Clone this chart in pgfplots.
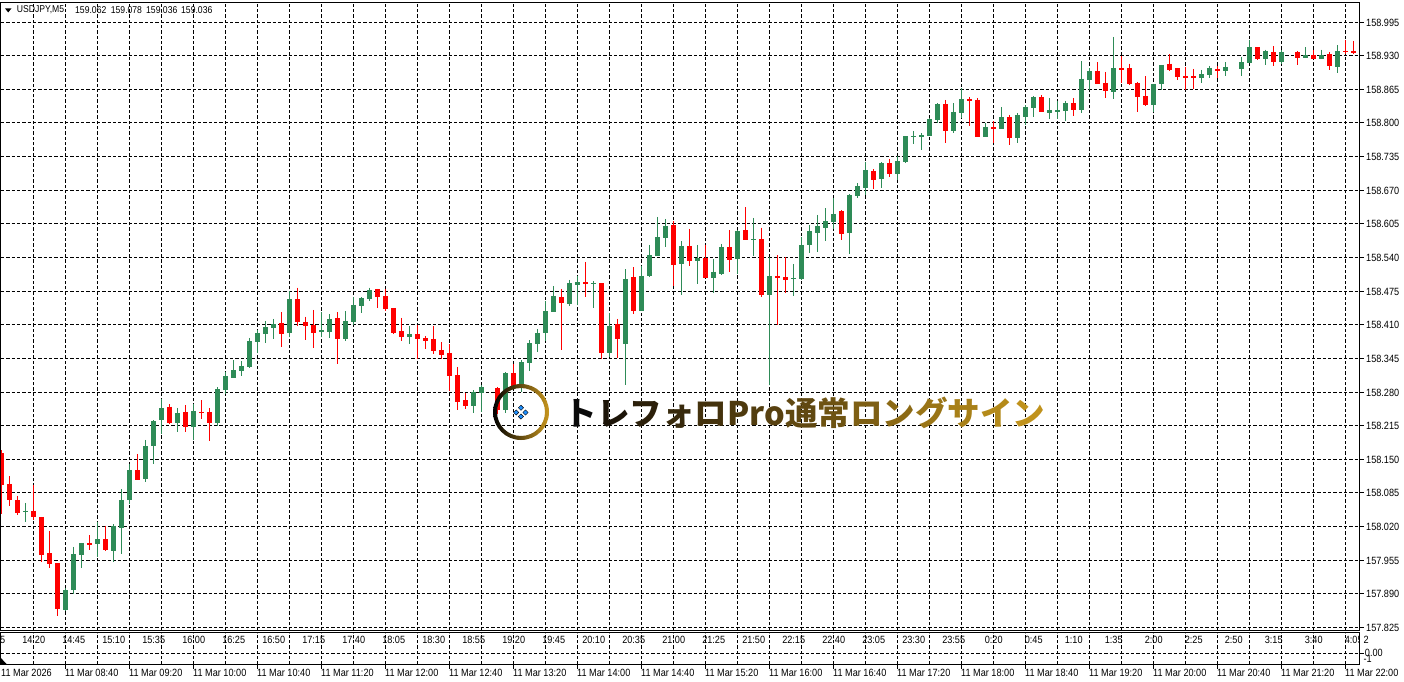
\documentclass[border=0pt]{standalone}
\usepackage{fontspec}
\usepackage{xcolor}
\usepackage{pgfplots}
\usepackage{pgfplotstable}
\pgfplotsset{compat=1.18}
\setmainfont{Liberation Sans}
\newfontfamily\lf[FakeStretch=0.87]{Liberation Sans}
\newfontfamily\cjk{Noto Sans CJK JP}
\definecolor{cgreen}{HTML}{2E8B57}
\definecolor{cred}{HTML}{FF0000}
\definecolor{cblue}{HTML}{1E90FF}
\definecolor{cgold}{HTML}{C8961E}
\newcommand{\lab}{\lf\fontsize{10.5}{12}\selectfont}
\newcommand{\hdr}{\lf\fontsize{9.9}{12}\selectfont}
\pgfplotstableread{
x o h l c
0 158.162 158.168 158.045 158.101
1 158.103 158.118 158.060 158.072
2 158.072 158.080 158.043 158.047
4 158.051 158.101 158.033 158.039
5 158.039 158.039 157.952 157.965
6 157.969 158.012 157.940 157.948
7 157.950 157.950 157.848 157.861
11 157.989 158.004 157.975 157.985
13 157.996 158.022 157.973 157.975
17 158.130 158.161 158.110 158.110
21 158.252 158.257 158.219 158.221
23 158.242 158.255 158.203 158.213
25 158.242 158.265 158.228 158.240
26 158.242 158.250 158.186 158.221
35 158.414 158.435 158.368 158.393
37 158.460 158.482 158.408 158.416
38 158.416 158.426 158.381 158.408
39 158.410 158.439 158.366 158.395
42 158.424 158.435 158.335 158.383
47 158.480 158.480 158.443 158.464
48 158.466 158.480 158.437 158.441
49 158.443 158.443 158.393 158.395
50 158.398 158.424 158.379 158.387
52 158.393 158.410 158.344 158.383
53 158.385 158.389 158.364 158.379
54 158.383 158.408 158.354 158.360
55 158.362 158.377 158.344 158.352
56 158.356 158.373 158.282 158.311
57 158.313 158.329 158.246 158.261
58 158.265 158.279 158.248 158.253
62 158.288 158.290 158.238 158.246
64 158.317 158.335 158.288 158.292
70 158.464 158.480 158.362 158.453
73 158.493 158.532 158.464 158.489
75 158.491 158.491 158.344 158.356
77 158.412 158.422 158.346 158.383
79 158.503 158.522 158.431 158.437
84 158.603 158.611 158.485 158.526
86 158.563 158.596 158.524 158.534
88 158.540 158.565 158.501 158.501
91 158.561 158.594 158.513 158.536
93 158.594 158.638 158.574 158.574
95 158.576 158.598 158.464 158.468
97 158.505 158.545 158.410 158.501
98 158.503 158.541 158.472 158.497
105 158.630 158.632 158.574 158.586
109 158.708 158.711 158.673 158.690
111 158.723 158.731 158.696 158.702
118 158.837 158.845 158.762 158.785
121 158.847 158.851 158.795 158.843
122 158.845 158.849 158.773 158.773
124 158.793 158.804 158.762 158.789
126 158.812 158.816 158.758 158.771
130 158.851 158.855 158.822 158.822
134 158.839 158.849 158.814 158.826
137 158.901 158.918 158.876 158.876
138 158.878 158.899 158.849 158.862
140 158.907 158.930 158.878 158.903
141 158.907 158.915 158.874 158.876
142 158.878 158.880 158.822 158.851
143 158.853 158.891 158.833 158.835
146 158.915 158.934 158.901 158.903
147 158.907 158.907 158.884 158.889
148 158.891 158.909 158.864 158.887
149 158.891 158.905 158.866 158.887
152 158.905 158.911 158.887 158.901
157 158.947 158.947 158.922 158.924
159 158.938 158.949 158.911 158.918
162 158.938 158.940 158.913 158.926
164 158.932 158.942 158.924 158.924
166 158.934 158.938 158.903 158.911
168 158.940 158.961 158.934 158.938
169 158.940 158.959 158.934 158.936
}\redbars
\pgfplotstableread{
x o h l c
3 158.049 158.066 158.029 158.051
8 157.859 157.902 157.857 157.898
9 157.898 157.981 157.890 157.967
10 157.965 157.989 157.940 157.989
12 157.987 158.029 157.962 157.996
14 157.973 158.025 157.952 158.022
15 158.018 158.093 157.967 158.072
16 158.072 158.141 158.064 158.130
18 158.112 158.188 158.107 158.176
19 158.176 158.226 158.141 158.224
20 158.226 158.267 158.199 158.250
22 158.221 158.250 158.203 158.240
24 158.213 158.257 158.188 158.244
27 158.221 158.290 158.215 158.286
28 158.284 158.320 158.277 158.311
29 158.308 158.342 158.308 158.323
30 158.321 158.340 158.311 158.331
31 158.329 158.385 158.327 158.379
32 158.377 158.400 158.356 158.395
33 158.393 158.418 158.375 158.406
34 158.404 158.422 158.383 158.412
36 158.395 158.476 158.387 158.460
40 158.397 158.435 158.387 158.400
41 158.397 158.431 158.385 158.422
43 158.383 158.437 158.379 158.418
44 158.416 158.464 158.410 158.449
45 158.447 158.464 158.433 158.462
46 158.460 158.482 158.456 158.478
51 158.387 158.408 158.373 158.393
59 158.253 158.284 158.240 158.281
60 158.279 158.294 158.242 158.290
63 158.246 158.319 158.240 158.317
65 158.294 158.342 158.281 158.338
66 158.337 158.381 158.321 158.375
67 158.373 158.402 158.358 158.395
68 158.395 158.456 158.379 158.437
69 158.435 158.485 158.435 158.466
71 158.451 158.497 158.447 158.491
72 158.487 158.505 158.449 158.493
74 158.489 158.495 158.443 158.491
76 158.356 158.433 158.348 158.408
78 158.373 158.518 158.294 158.499
80 158.437 158.524 158.437 158.505
81 158.505 158.565 158.503 158.545
82 158.543 158.619 158.543 158.580
83 158.578 158.615 158.561 158.601
85 158.528 158.572 158.468 158.563
87 158.534 158.565 158.489 158.540
89 158.501 158.538 158.472 158.513
90 158.509 158.567 158.507 158.561
92 158.538 158.594 158.509 158.592
94 158.574 158.617 158.543 158.576
96 158.468 158.541 158.294 158.505
99 158.499 158.528 158.466 158.501
100 158.499 158.580 158.497 158.565
101 158.565 158.603 158.549 158.592
102 158.588 158.623 158.551 158.601
103 158.597 158.636 158.572 158.611
104 158.609 158.655 158.596 158.625
106 158.588 158.663 158.547 158.661
107 158.659 158.684 158.655 158.679
108 158.675 158.725 158.661 158.710
110 158.692 158.725 158.675 158.723
112 158.702 158.737 158.690 158.727
113 158.725 158.775 158.723 158.775
114 158.773 158.785 158.760 158.775
115 158.773 158.781 158.748 158.777
116 158.775 158.810 158.775 158.808
117 158.806 158.839 158.800 158.837
119 158.785 158.839 158.781 158.822
120 158.820 158.868 158.810 158.847
123 158.773 158.800 158.773 158.793
125 158.789 158.831 158.789 158.812
127 158.771 158.820 158.762 158.816
128 158.812 158.835 158.797 158.831
129 158.829 158.853 158.812 158.851
131 158.820 158.849 158.808 158.826
132 158.822 158.843 158.808 158.826
133 158.824 158.843 158.804 158.839
135 158.826 158.920 158.820 158.886
136 158.884 158.907 158.864 158.901
139 158.860 158.967 158.847 158.907
144 158.835 158.876 158.822 158.876
145 158.876 158.913 158.864 158.913
150 158.887 158.903 158.878 158.895
151 158.893 158.911 158.887 158.907
153 158.901 158.918 158.891 158.909
155 158.905 158.928 158.891 158.918
156 158.916 158.961 158.916 158.947
158 158.924 158.942 158.913 158.940
160 158.918 158.942 158.914 158.938
163 158.926 158.947 158.926 158.932
165 158.924 158.942 158.924 158.932
167 158.909 158.951 158.897 158.940
}\greenbars
\pgfplotsset{
  chartgrid/.style={draw=black, line width=1pt, dash pattern=on 3.33pt off 2pt},
  chartbase/.style={
    scale only axis,
    width=1358.6pt,
    xmin=-0.075, xmax=169.75,
    axis line style={black, line width=1pt},
    grid style={chartgrid},
    minor grid style={chartgrid},
    xmajorgrids, xminorgrids, ymajorgrids,
    tick style={black, line width=1pt},
    ytick pos=right,
    clip=true,
  },
}
\begin{document}
\begin{tikzpicture}[x=1pt,y=1pt]
\path[use as bounding box, fill=white] (0,0) rectangle (1404,681);
\begin{axis}[chartbase,
    at={(0.9pt,50.5pt)}, anchor=south west,
    height=628pt,
    ymin=157.81953, ymax=159.03333,
    xtick={4,8,...,168}, xticklabels={},
    x tick style={draw=none},
    ytick={157.82533,157.89104,157.95482,158.02054,158.08625,158.15004,158.21575,158.27953,158.34525,158.41097,158.47475,158.54046,158.60618,158.66996,158.73568,158.80139,158.86517,158.93089,158.99467},
    yticklabels={157.825,157.890,157.955,158.020,158.085,158.150,158.215,158.280,158.345,158.410,158.475,158.540,158.605,158.670,158.735,158.800,158.865,158.930,158.995},
    major tick length=4pt,
    tick align=outside,
    yticklabel pos=right,
    yticklabel style={font=\lab, anchor=west, inner sep=0pt, xshift=2.5pt},
  ]
  % wicks
  \addplot[draw=none, mark=none, error bars/.cd, y dir=minus, y explicit, error mark=none,
     error bar style={draw=cgreen, solid, line width=1pt}]
     table[x=x, y=h, y error minus expr=\thisrow{h}-\thisrow{l}] {\greenbars};
  \addplot[draw=none, mark=none, error bars/.cd, y dir=minus, y explicit, error mark=none,
     error bar style={draw=cred, solid, line width=1pt}]
     table[x=x, y=h, y error minus expr=\thisrow{h}-\thisrow{l}] {\redbars};
  % bodies
  \addplot[draw=none, mark=none, error bars/.cd, y dir=minus, y explicit, error mark=none,
     error bar style={draw=cgreen, solid, line width=5pt}]
     table[x=x, y=c, y error minus expr=\thisrow{c}-\thisrow{o}] {\greenbars};
  \addplot[draw=none, mark=none, error bars/.cd, y dir=minus, y explicit, error mark=none,
     error bar style={draw=cred, solid, line width=5pt}]
     table[x=x, y=o, y error minus expr=\thisrow{o}-\thisrow{c}] {\redbars};
  % entry sign
  \addplot[only marks, mark=square*, mark size=1.85pt, mark options={draw=none, fill=cblue, rotate=45}]
     coordinates {(64.34,158.241) (64.93,158.250) (65.50,158.241) (64.93,158.233)};
\end{axis}
\begin{axis}[chartbase,
    at={(0.9pt,16.5pt)}, anchor=south west,
    height=32pt,
    ymin=-1.654, ymax=3.158,
    xtick={8,16,...,168}, xticklabels={},
    minor xtick={4,12,...,164},
    minor tick length=0pt,
    major tick length=4pt,
    xtick pos=lower,
    tick align=outside,
    ytick={0}, yticklabels={},
  ]
\end{axis}
% sub-window scale
\node[anchor=west, inner sep=0pt, font=\lab] at (1363.3,41) {2};
\node[anchor=west, inner sep=0pt, font=\lab] at (1364.7,28) {0.00};
\node[anchor=west, inner sep=0pt, font=\lab] at (1363.3,22.3) {-1};
% shift marker
\fill[black] (0.9,23) -- (7,16.5) -- (0.9,16.5) -- cycle;
% time row
\begin{scope}
\clip (1.4,30) rectangle (1359,50);
\foreach \t [count=\i from -1] in {13:55,14:20,14:45,15:10,15:35,16:00,16:25,16:50,17:15,17:40,18:05,18:30,18:55,19:20,19:45,20:10,20:35,21:00,21:25,21:50,22:15,22:40,23:05,23:30,23:55,0:20,0:45,1:10,1:35,2:00,2:25,2:50,3:15,3:40,4:05}{
  \pgfmathsetmacro\xx{33.7+40*\i}
  \node[font=\lab, inner sep=0pt] at (\xx,41) {\t};
}
\end{scope}
% date row
\node[anchor=west, inner sep=0pt, font=\lab] at (1,8) {11 Mar 2026};
\foreach \t [count=\i from 1] in {08:40,09:20,10:00,10:40,11:20,12:00,12:40,13:20,14:00,14:40,15:20,16:00,16:40,17:20,18:00,18:40,19:20,20:00,20:40,21:20,22:00}{
  \pgfmathsetmacro\xx{1+64*\i}
  \node[anchor=west, inner sep=0pt, font=\lab] at (\xx,8) {11 Mar \t};
}
% header
\fill[black] (5,672.7) -- (11.5,672.7) -- (8.2,668.5) -- cycle;
\node[anchor=west, inner sep=0pt, font=\hdr] at (16.7,671) {USDJPY,M5};
\node[anchor=west, inner sep=0pt, font=\hdr] at (75,671) {159.062};
\node[anchor=west, inner sep=0pt, font=\hdr] at (110.7,671) {159.078};
\node[anchor=west, inner sep=0pt, font=\hdr] at (146,671) {159.036};
\node[anchor=west, inner sep=0pt, font=\hdr] at (181,671) {159.036};
% ring and caption
\path[left color=black, right color=cgold, even odd rule] (521,269) circle (28) (521,269) circle (24);
\node[anchor=west, inner sep=0pt, font=\cjk\bfseries\fontsize{32.5}{36}\selectfont] at (564.5,268) {%
\textcolor[HTML]{0A0A0A}{ト}\textcolor[HTML]{1C1408}{レ}\textcolor[HTML]{2C200A}{フ}\textcolor[HTML]{382A0C}{ォ}\textcolor[HTML]{44320D}{ロ}\textcolor[HTML]{4E3A0E}{P}\textcolor[HTML]{523D0F}{r}\textcolor[HTML]{584110}{o}\textcolor[HTML]{604811}{通}\textcolor[HTML]{6E5312}{常}\textcolor[HTML]{7E5F14}{ロ}\textcolor[HTML]{8C6A15}{ン}\textcolor[HTML]{9A7517}{グ}\textcolor[HTML]{A88018}{サ}\textcolor[HTML]{B48A1A}{イ}\textcolor[HTML]{C0921C}{ン}};
\end{tikzpicture}
\end{document}
